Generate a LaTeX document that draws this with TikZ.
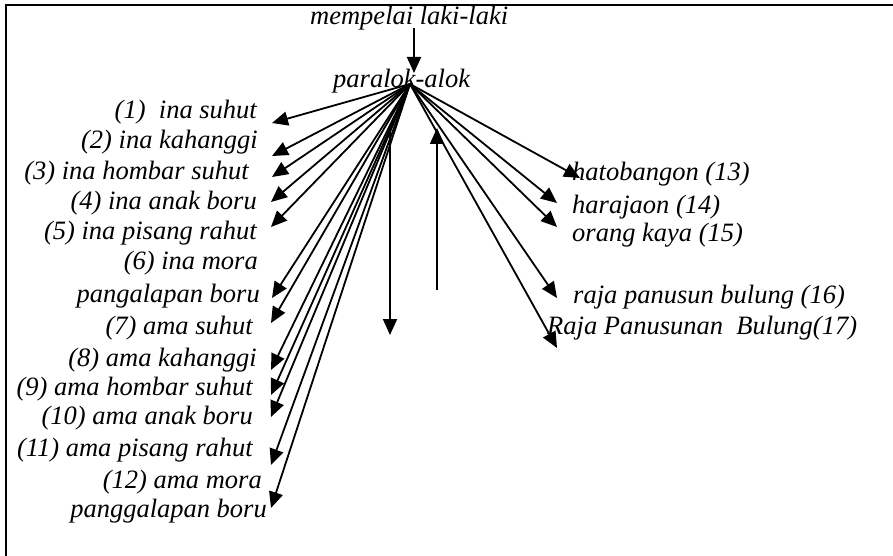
\documentclass[tikz,border=0pt]{standalone}
\usepackage{fontspec}
\setmainfont{Liberation Serif}
\usetikzlibrary{arrows.meta}
\begin{document}
\begin{tikzpicture}[x=1pt,y=-1pt,
  lbl/.style={inner sep=0pt, font=\fontsize{26.5}{30}\selectfont\itshape},
  lft/.style={lbl, anchor=base east},
  rgt/.style={lbl, anchor=base west},
  arr/.style={line width=1.8pt, -{Triangle[length=16pt,width=14pt]}},
  frameline/.style={line width=2.2pt}]
\useasboundingbox (0,0) rectangle (893,556);
% frame
\coordinate (fr1) at (893,5);
\coordinate (fr0) at (6,5);
\coordinate (fr2) at (6,556);
\draw[frameline] (fr1) -- (fr0) -- (fr2);
% top
\node[rgt] (groom) at (310,25) {mempelai laki-laki};
\node[rgt] (para) at (333,88) {paralok-alok};
\coordinate (g0) at (414,28);
\coordinate (g1) at (414,73);
\draw[arr] (g0) -- (g1);
\coordinate (hub) at (410,84);
% left labels
\node[lft] (l1) at (257,119) {(1)\ \ ina suhut};
\node[lft] (l2) at (258,149) {(2) ina kahanggi};
\node[lft] (l3) at (249,179) {(3) ina hombar suhut};
\node[lft] (l4) at (257,209) {(4) ina anak boru};
\node[lft] (l5) at (257,239) {(5) ina pisang rahut};
\node[lft] (l6) at (258,269) {(6) ina mora};
\node[lft] (l6b) at (260,302) {pangalapan boru};
\node[lft] (l7) at (253,334) {(7) ama suhut};
\node[lft] (l8) at (257,366) {(8) ama kahanggi};
\node[lft] (l9) at (253,395) {(9) ama hombar suhut};
\node[lft] (l10) at (253,424) {(10) ama anak boru};
\node[lft] (l11) at (253,456) {(11) ama pisang rahut};
\node[lft] (l12) at (262,488) {(12) ama mora};
\node[lft] (l12b) at (267,517) {panggalapan boru};
% right labels
\node[rgt] (r13) at (572,181) {hatobangon (13)};
\node[rgt] (r14) at (572,213) {harajaon (14)};
\node[rgt] (r15) at (572,241) {orang kaya (15)};
\node[rgt] (r16) at (573,303) {raja panusun bulung (16)};
\node[rgt] (r17) at (547,334) {Raja Panusunan\ \ Bulung(17)};
% tips
\coordinate (t1) at (272,123);
\coordinate (t2) at (272,156);
\coordinate (t3) at (272,177);
\coordinate (t4) at (271,202);
\coordinate (t5) at (271,227);
\coordinate (t6) at (272,298);
\coordinate (t7) at (271,323);
\coordinate (t8) at (271,370);
\coordinate (t9) at (271,395);
\coordinate (t10) at (271,417);
\coordinate (t11) at (271,465);
\coordinate (t12) at (271,508);
\coordinate (t13) at (580,178);
\coordinate (t14) at (557,203);
\coordinate (t15) at (557,227);
\coordinate (t16) at (557,298);
\coordinate (t17) at (557,348);
\foreach \i in {1,...,17} {\draw[arr] (hub) -- (t\i);}
% vertical arrows
\coordinate (d0) at (390,132);
\coordinate (d1) at (390,335);
\draw[arr] (d0) -- (d1);
\coordinate (u0) at (437,290);
\coordinate (u1) at (437,128);
\draw[arr] (u0) -- (u1);
\end{tikzpicture}
\end{document}
